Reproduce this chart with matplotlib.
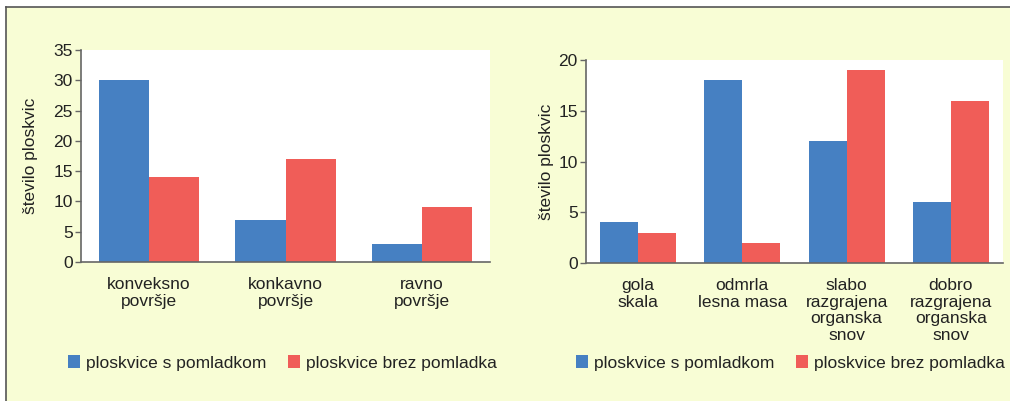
import matplotlib.pyplot as plt
import numpy as np
from matplotlib.lines import Line2D

plt.rcParams['font.family'] = ['Liberation Sans', 'DejaVu Sans']

# data
cats_left = ['konveksno\npovršje', 'konkavno\npovršje', 'ravno\npovršje']
s_pom_left = [30, 7, 3]
brez_pom_left = [14, 17, 9]

cats_right = ['gola\nskala', 'odmrla\nlesna masa', 'slabo\nrazgrajena\norganska\nsnov',
              'dobro\nrazgrajena\norganska\nsnov']
s_pom_right = [4, 18, 12, 6]
brez_pom_right = [3, 2, 19, 16]

series_names = ['ploskvice s pomladkom', 'ploskvice brez pomladka']
ylabel = 'število ploskvic'

blue = '#4680c2'
red = '#f05d58'
bg = '#f8fdd5'
txt = '#222222'

W, H = 1010, 401
fig = plt.figure(figsize=(W / 100, H / 100), dpi=100, facecolor='white')

# yellow panel with border
fig.patches.append(plt.Rectangle((6 / W, 0), 1 - 6 / W, 1 - 7 / H, transform=fig.transFigure,
                                 facecolor=bg, edgecolor='none', zorder=-10))
fig.add_artist(Line2D([6 / W, 1], [1 - 7 / H, 1 - 7 / H], color='#555555', lw=1.2, zorder=-5))
fig.add_artist(Line2D([6 / W, 6 / W], [0, 1 - 7 / H], color='#555555', lw=1.2, zorder=-5))


def make_axes(x0, x1, y0, y1):
    return fig.add_axes([x0 / W, 1 - y1 / H, (x1 - x0) / W, (y1 - y0) / H])


def draw(ax, cats, a, b, ymax, step, width, label_x):
    x = np.arange(len(cats))
    ax.bar(x - width / 2, a, width, color=blue, label=series_names[0], zorder=2)
    ax.bar(x + width / 2, b, width, color=red, label=series_names[1], zorder=2)
    ax.set_xlim(-0.5, len(cats) - 0.5)
    ax.set_ylim(0, ymax)
    ax.set_yticks(np.arange(0, ymax + 1, step))
    ax.set_xticks(x)
    ax.set_xticklabels(cats, fontsize=12.5, color=txt, linespacing=1.12, va='top')
    ax.tick_params(axis='x', length=0, pad=11)
    ax.tick_params(axis='y', length=4, width=1, color='#666666', labelsize=12.5,
                   labelcolor=txt, pad=2)
    ax.set_facecolor('white')
    for s in ['top', 'right']:
        ax.spines[s].set_visible(False)
    for s in ['left', 'bottom']:
        ax.spines[s].set_color('#666666')
        ax.spines[s].set_linewidth(1.2)
    ax.set_ylabel(ylabel, fontsize=12.5, color=txt)
    ax.yaxis.set_label_coords(label_x, 0.5)


ax1 = make_axes(81, 490, 50, 262)
draw(ax1, cats_left, s_pom_left, brez_pom_left, 35, 5, 0.367, -0.105)
ax2 = make_axes(586, 1003, 60, 263)
draw(ax2, cats_right, s_pom_right, brez_pom_right, 20, 5, 0.365, -0.077)

for ax, lx in [(ax1, 68 / W), (ax2, 576 / W)]:
    fig.legend(handles=ax.get_legend_handles_labels()[0], labels=series_names,
               loc='center left', bbox_to_anchor=(lx, 1 - 363 / H), ncol=2, frameon=False,
               fontsize=12.5, handlelength=0.7, handleheight=0.7, handletextpad=0.35,
               columnspacing=1.22, borderaxespad=0, borderpad=0, labelcolor=txt)

fig.savefig('out.png', dpi=100, facecolor=fig.get_facecolor())
